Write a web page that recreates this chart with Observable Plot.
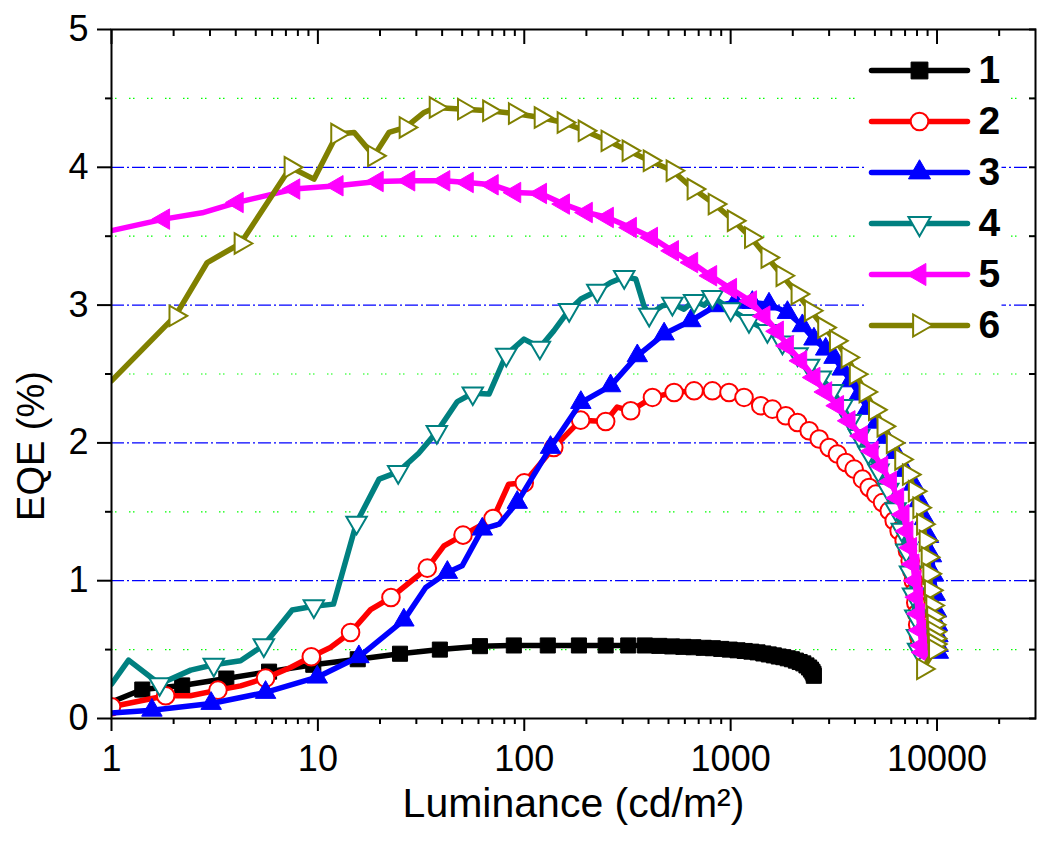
<!DOCTYPE html>
<html><head><meta charset="utf-8">
<script src="https://cdn.jsdelivr.net/npm/d3@7"></script>
<script src="https://cdn.jsdelivr.net/npm/@observablehq/plot@0.6"></script>
<style>
html,body{margin:0;padding:0;background:#fff;}
#chart svg{display:block;}
</style></head><body><div id="chart"></div>
<script>
// ---- data: [luminance (cd/m2), EQE (%), symbol drawn (1) or plain line vertex (0)] ----
const s1 = [[1.0,0.12,0],[1.41,0.21,1],[2.2,0.24,1],[3.6,0.29,1],[5.8,0.34,1],[9.5,0.39,1],[15.6,0.43,1],[25,0.47,1],[39,0.50,1],[61,0.525,1],[89,0.53,1],[130,0.53,1],[184,0.53,1],[248,0.53,1],[319,0.53,1],[384,0.53,1],[451,0.527,1],[520,0.523,1],[590,0.52,1],[660,0.517,1],[740,0.513,1],[820,0.51,1],[900,0.505,1],[990,0.50,1],[1080,0.495,1],[1170,0.49,1],[1260,0.485,1],[1350,0.48,1],[1440,0.472,1],[1530,0.465,1],[1620,0.458,1],[1710,0.45,1],[1800,0.445,1],[1890,0.437,1],[1980,0.43,1],[2070,0.42,1],[2160,0.41,1],[2250,0.40,1],[2330,0.385,1],[2400,0.37,1],[2450,0.355,1],[2490,0.34,1],[2520,0.325,1],[2530,0.31,1]];
const s2 = [[1.0,0.085,1],[1.83,0.165,1],[2.41,0.165,0],[3.28,0.206,1],[4.22,0.237,0],[5.58,0.293,1],[7.37,0.37,0],[9.29,0.448,1],[11.5,0.515,0],[14.4,0.624,1],[18,0.79,0],[22.6,0.878,1],[33.9,1.091,1],[40.8,1.253,0],[50.5,1.331,1],[70.6,1.451,1],[84,1.70,0],[100,1.71,1],[139,1.967,1],[187.6,2.165,1],[248,2.155,1],[282,2.26,0],[328,2.233,1],[418,2.33,1],[532,2.366,1],[665,2.378,1],[816,2.378,1],[982,2.366,1],[1161,2.33,1],[1399,2.27,1],[1594,2.245,1],[1850,2.197,1],[2108,2.148,1],[2401,2.088,1],[2685,2.028,1],[3001,1.967,1],[3292,1.919,1],[3617,1.858,1],[3966,1.81,1],[4352,1.737,1],[4690,1.676,1],[5052,1.628,1],[5443,1.567,1],[5867,1.507,1],[6200,1.435,1],[6550,1.362,1],[6930,1.29,1],[7190,1.217,1],[7410,1.144,1],[7550,1.072,1],[7680,1.0,1],[7790,0.92,1],[7890,0.84,1],[7980,0.76,1],[8060,0.68,1],[8140,0.60,1],[8210,0.53,1]];
const s3 = [[1.0,0.04,0],[1.57,0.06,1],[3.04,0.109,1],[5.58,0.189,1],[9.93,0.30,1],[15.8,0.448,1],[26.1,0.714,1],[33.3,0.95,0],[42.4,1.06,1],[50,1.108,0],[62.6,1.374,1],[75.5,1.41,0],[92.5,1.568,1],[134,1.967,1],[188,2.293,1],[262,2.414,1],[353,2.632,1],[476,2.79,1],[641,2.886,1],[847,2.995,1],[1050,3.02,1],[1274,3.019,1],[1534,3.007,1],[1884,2.946,1],[2225,2.85,1],[2533,2.753,1],[2887,2.68,1],[3168,2.62,1],[3478,2.535,1],[3816,2.45,1],[4190,2.354,1],[4600,2.25,1],[5100,2.15,1],[5650,2.04,1],[6300,1.93,1],[7000,1.80,1],[7700,1.70,1],[8200,1.58,1],[8700,1.45,1],[9100,1.32,1],[9400,1.18,1],[9620,1.04,1],[9800,0.90,1],[9950,0.78,1],[10050,0.68,1],[10100,0.60,1],[10130,0.53,1],[10150,0.48,1]];
const s4 = [[1.0,0.25,0],[1.21,0.424,0],[1.71,0.25,1],[2.42,0.351,0],[3.13,0.39,1],[4.22,0.419,0],[5.47,0.532,1],[7.51,0.787,0],[9.56,0.815,1],[11.9,0.83,0],[15.4,1.422,1],[19.8,1.737,0],[24.5,1.79,1],[30.8,1.925,0],[37.7,2.08,1],[47.4,2.30,0],[56.3,2.36,1],[67.5,2.354,0],[81.8,2.64,1],[99.7,2.753,0],[119,2.692,1],[139,2.813,0],[165,2.965,1],[188,3.044,0],[226,3.104,1],[262,3.164,0],[305,3.205,1],[347,3.189,0],[380,2.995,0],[403,2.93,1],[467,2.995,0],[522,3.01,1],[594,2.97,0],[665,3.03,1],[745,3.0,0],[816,3.06,1],[1000,2.97,1],[1227,2.886,1],[1507,2.813,1],[1782,2.729,1],[2108,2.644,1],[2399,2.56,1],[2735,2.475,1],[3113,2.378,1],[3478,2.269,1],[3816,2.16,1],[4190,2.05,1],[4650,1.93,1],[5200,1.80,1],[5800,1.66,1],[6300,1.52,1],[6750,1.37,1],[7100,1.22,1],[7400,1.06,1],[7650,0.90,1],[7850,0.74,1],[8000,0.60,1],[8100,0.50,1]];
const s5 = [[1.0,3.54,0],[1.79,3.624,1],[2.75,3.67,0],[4.07,3.745,1],[7.65,3.842,1],[12.4,3.866,1],[19.4,3.897,1],[27.6,3.902,1],[40.8,3.902,1],[53,3.89,1],[70,3.873,1],[90,3.817,1],[120,3.81,1],[155,3.733,1],[200,3.672,1],[253,3.636,1],[327,3.563,1],[414,3.491,1],[523,3.394,1],[648,3.309,1],[801,3.213,1],[1000,3.12,1],[1250,3.03,1],[1452,2.92,1],[1686,2.81,1],[1884,2.705,1],[2187,2.596,1],[2536,2.475,1],[2890,2.37,1],[3300,2.27,1],[3750,2.16,1],[4300,2.05,1],[4850,1.94,1],[5400,1.83,1],[5950,1.72,1],[6450,1.60,1],[6850,1.48,1],[7150,1.36,1],[7450,1.24,1],[7650,1.12,1],[7820,1.00,1],[7970,0.88,1],[8120,0.76,1],[8280,0.64,1],[8430,0.53,1],[8550,0.48,1]];
const s6 = [[1.0,2.45,0],[2.04,2.922,1],[2.91,3.309,0],[4.22,3.447,1],[7.37,4.0,1],[9.57,3.914,0],[12.4,4.241,1],[15,4.253,0],[18.7,4.083,1],[22.1,4.253,0],[26.6,4.289,1],[32.7,4.398,0],[37.2,4.434,1],[51,4.422,1],[67.5,4.41,1],[90,4.39,1],[120,4.361,1],[155,4.325,1],[196,4.265,1],[253,4.192,1],[320,4.12,1],[405,4.047,1],[523,3.975,1],[661,3.842,1],[836,3.733,1],[1035,3.612,1],[1254,3.49,1],[1507,3.345,1],[1782,3.213,1],[2108,3.08,1],[2445,2.959,1],[2837,2.837,1],[3234,2.741,1],[3681,2.62,1],[4037,2.499,1],[4500,2.37,1],[5000,2.24,1],[5500,2.12,1],[6100,2.0,1],[6700,1.88,1],[7300,1.77,1],[7800,1.65,1],[8200,1.53,1],[8550,1.41,1],[8800,1.29,1],[9000,1.17,1],[9170,1.05,1],[9330,0.93,1],[9480,0.82,1],[9570,0.74,1],[9630,0.68,1],[9680,0.63,1],[9720,0.58,1],[9750,0.54,1],[9770,0.50,1],[8550,0.36,1]];

const seriesNames = ["1","2","3","4","5","6"];
const xMajorTicks = [1, 10, 100, 1000, 10000];
const xMinorTicks = [2,3,4,5,6,7,8,9,20,30,40,50,60,70,80,90,200,300,400,500,600,700,800,900,2000,3000,4000,5000,6000,7000,8000,9000,20000];
const yMajorTicks = [0, 1, 2, 3, 4, 5];
const yMinorTicks = [0.5, 1.5, 2.5, 3.5, 4.5];
const yGridMajor = [1, 2, 3, 4];
const xTitle = "Luminance (cd/m\u00B2)";
const yTitle = "EQE (%)";

// ---- styles ----
const colors = ["#000000", "#ff0000", "#0000ff", "#008080", "#ff00ff", "#808000"];
const symbols = ["square", "circle", "triangle", "triangle", "triangle", "triangle"];
const rotations = [0, 0, 0, 180, -90, 90];
const filled = [true, false, true, false, true, false];
const dotR = [8.5, 8.8, 7.6, 7.6, 7.6, 7.6];
const legendR = [9.5, 8.8, 8.2, 8.2, 8.2, 8.2];
const FONT = "'Liberation Sans', Arial, Helvetica, sans-serif";

const lineShape = {draw(ctx, l) { ctx.moveTo(0, 0); ctx.lineTo(0, -l); }};

const series = [s1, s2, s3, s4, s5, s6];
const marks = [];

// grid lines
marks.push(Plot.ruleY(yMinorTicks, {stroke: "#00ff00", strokeWidth: 1.2, strokeDasharray: "1.5,2.5,1.5,12.5"}));
marks.push(Plot.ruleY(yGridMajor, {stroke: "#0000ff", strokeWidth: 1.3, strokeDasharray: "13,3,2,3"}));

// legend background (white box masking grid lines)
marks.push(Plot.vector([0], {frameAnchor: "top-right", dx: -102, dy: 12, length: 322, rotate: 180, anchor: "start",
  stroke: "white", strokeWidth: 136, strokeLinecap: "butt", shape: lineShape}));

// data series
series.forEach((s, i) => {
  const rows = s.map(([L, EQE, m]) => ({L, EQE, m}));
  marks.push(Plot.line(rows, {x: "L", y: "EQE", stroke: colors[i], strokeWidth: 5.5, strokeLinejoin: "round", clip: true}));
  marks.push(Plot.dot(rows.filter(d => d.m), {x: "L", y: "EQE", symbol: symbols[i], r: dotR[i], rotate: rotations[i],
    fill: filled[i] ? colors[i] : "white", stroke: colors[i], strokeWidth: filled[i] ? 1 : 2, clip: true}));
});

// frame and axes
marks.push(Plot.frame({stroke: "black", strokeWidth: 2}));
marks.push(Plot.axisX({ticks: xMajorTicks, anchor: "bottom", tickSize: 13, tickPadding: 14, strokeWidth: 2, fontSize: 36, tickFormat: d => String(d), label: null}));
marks.push(Plot.axisX({ticks: xMinorTicks, anchor: "bottom", tickSize: 6, strokeWidth: 2, fill: "none", label: null}));
marks.push(Plot.axisX({ticks: xMajorTicks, anchor: "top", tickSize: -14, strokeWidth: 2, fill: "none", label: null}));
marks.push(Plot.axisX({ticks: xMinorTicks, anchor: "top", tickSize: -6, strokeWidth: 2, fill: "none", label: null}));
marks.push(Plot.axisY({ticks: yMajorTicks, anchor: "left", tickSize: 14, tickPadding: 9, strokeWidth: 2, fontSize: 36, tickFormat: d => String(d), label: null}));
marks.push(Plot.axisY({ticks: yMinorTicks, anchor: "left", tickSize: 6, strokeWidth: 2, fill: "none", label: null}));
marks.push(Plot.axisY({ticks: yMajorTicks.concat(yMinorTicks), anchor: "right", tickSize: -7, strokeWidth: 2, fill: "none", label: null}));

// legend
seriesNames.forEach((name, i) => {
  const dy = 41 + 51 * i;
  marks.push(Plot.vector([0], {frameAnchor: "top-right", dx: -164, dy, length: 96, rotate: 90, anchor: "start",
    stroke: colors[i], strokeWidth: 5.5, strokeLinecap: "round", shape: lineShape}));
  marks.push(Plot.dot([0], {frameAnchor: "top-right", dx: -116, dy, symbol: symbols[i], r: legendR[i], rotate: rotations[i],
    fill: filled[i] ? colors[i] : "white", stroke: colors[i], strokeWidth: filled[i] ? 1 : 2}));
  marks.push(Plot.text([name], {frameAnchor: "top-right", dx: -57, dy, text: d => d, textAnchor: "start", lineAnchor: "middle",
    fontSize: 39, fontWeight: "bold", fill: "black"}));
});

// axis titles
marks.push(Plot.text([xTitle], {frameAnchor: "bottom", dy: 85, text: d => d, textAnchor: "middle", lineAnchor: "middle", fontSize: 41, fill: "black"}));
marks.push(Plot.text([yTitle], {frameAnchor: "left", dx: -80, dy: 72, rotate: -90, text: d => d, textAnchor: "middle", lineAnchor: "middle", fontSize: 38, fill: "black"}));

const chart = Plot.plot({
  width: 1050,
  height: 864,
  marginLeft: 111,
  marginRight: 15,
  marginTop: 29,
  marginBottom: 146,
  x: {type: "log", domain: [1, 30000]},
  y: {domain: [0, 5]},
  style: {fontFamily: FONT, background: "white", color: "black", overflow: "visible"},
  marks
});
document.getElementById("chart").appendChild(chart);
</script>
</body></html>
